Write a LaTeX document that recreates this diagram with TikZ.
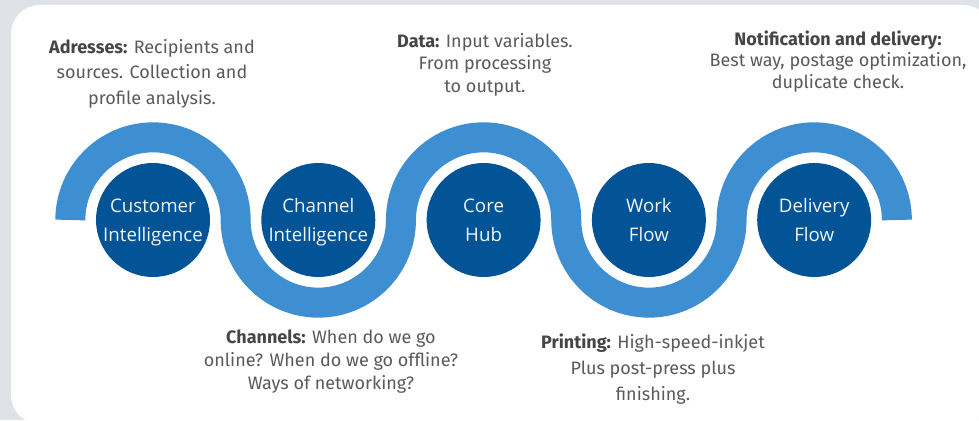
\documentclass[tikz,border=0pt]{standalone}
\usepackage{fontspec}
\setmainfont{Fira Sans}
\newfontfamily\circfont{Open Sans}
\definecolor{bg}{HTML}{DFE3E7}
\definecolor{band}{HTML}{3E8FD2}
\definecolor{hub}{HTML}{035497}
\definecolor{txt}{HTML}{5A5A5A}
\definecolor{head}{HTML}{454545}
\newcommand{\hd}[1]{{\bfseries\color{head}#1}}
\newcommand{\tl}{\rule{0pt}{15pt}}
\newcommand{\ctop}{\rule{0pt}{20pt}}
\newcommand{\cbot}{\rule[-5pt]{0pt}{5pt}}
\tikzset{
  hubnode/.style={circle, fill=hub, minimum size=114pt, inner sep=0pt,
    text=white!94!hub, align=center, font=\circfont\fontsize{18.7}{29}\selectfont},
  lbl/.style={align=center, text=txt, inner sep=0pt, anchor=north},
  bandline/.style={draw=band, line width=30pt},
}
\begin{document}
\begin{tikzpicture}[x=1pt,y=1pt]
\useasboundingbox (0,0) rectangle (979,420);
\fill[bg] (0,0) rectangle (979,420);
\fill[white, rounded corners=29pt] (11,415) rectangle (992,-4);
\path[bandline] (70.35,200)
  arc[start angle=180,end angle=0,radius=82.65]
  arc[start angle=180,end angle=360,radius=82.65]
  arc[start angle=180,end angle=0,radius=82.65]
  arc[start angle=180,end angle=360,radius=82.65]
  arc[start angle=180,end angle=0,radius=82.65];
\node[hubnode] (c1) at (153,200) {\ctop Customer\\Intelligence\cbot};
\node[hubnode] (c2) at (318.3,200) {\ctop Channel\\Intelligence\cbot};
\node[hubnode] (c3) at (483.6,200) {\ctop Core\\Hub\cbot};
\node[hubnode] (c4) at (648.9,200) {\ctop Work\\Flow\cbot};
\node[hubnode] (c5) at (814.2,200) {\ctop Delivery\\Flow\cbot};
\node[lbl, font=\fontsize{18}{25.5}\selectfont] (l1) at (152,382)
  {\tl\hd{Adresses:} Recipients and\\sources. Collection and\\profile analysis.};
\node[lbl, font=\fontsize{18}{22.5}\selectfont] (l3) at (485,388)
  {\tl\hd{Data:} Input variables.\\From processing\\to output.};
\node[lbl, font=\fontsize{18}{21.5}\selectfont] (l5) at (838,390)
  {\tl\hd{Notification and delivery:}\\Best way, postage optimization,\\duplicate check.};
\node[lbl, font=\fontsize{18}{23}\selectfont] (l2) at (331,92)
  {\tl\hd{Channels:} When do we go\\online? When do we go offline?\\Ways of networking?};
\node[lbl, font=\fontsize{18}{26}\selectfont] (l4) at (653,87)
  {\tl\hd{Printing:} High-speed-inkjet\\Plus post-press plus\\finishing.};
\end{tikzpicture}
\end{document}
